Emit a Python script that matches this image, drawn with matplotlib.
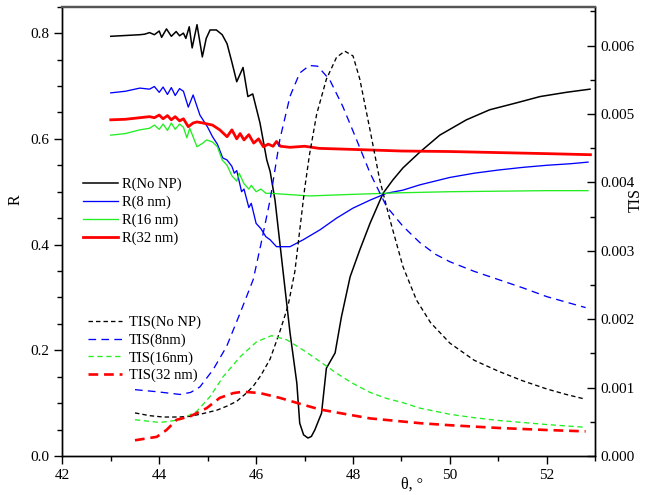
import matplotlib
matplotlib.use("Agg")
import matplotlib.pyplot as plt
from matplotlib.ticker import MultipleLocator, FormatStrFormatter

plt.rcParams['font.family'] = ['Liberation Serif', 'DejaVu Serif']
plt.rcParams['lines.scale_dashes'] = False

# ---------------- data ----------------
theta_r0 = [43.0, 43.2, 43.4, 43.6, 43.7, 43.8, 43.9, 44.0, 44.05, 44.15, 44.25, 44.35, 44.42,
            44.5, 44.55, 44.62, 44.68, 44.78, 44.89, 44.97, 45.05, 45.18, 45.3, 45.4, 45.5,
            45.6, 45.73, 45.83, 45.93, 46.08, 46.22, 46.29, 46.39, 46.56, 46.70, 46.84, 46.90,
            46.98, 47.07, 47.14, 47.21, 47.35, 47.45, 47.63, 47.76, 47.94, 48.14, 48.35, 48.62,
            48.82, 49.03, 49.38, 49.79, 50.34, 50.82, 51.37, 51.86, 52.4, 52.89]
r_nonp = [0.794, 0.795, 0.796, 0.797, 0.798, 0.801, 0.797, 0.804, 0.792, 0.808, 0.794, 0.803, 0.795,
          0.800, 0.790, 0.812, 0.772, 0.816, 0.755, 0.790, 0.806, 0.806, 0.797, 0.780, 0.745,
          0.708, 0.735, 0.680, 0.685, 0.630, 0.560, 0.538, 0.484, 0.346, 0.233, 0.138, 0.062,
          0.040, 0.034, 0.037, 0.049, 0.081, 0.166, 0.195, 0.263, 0.339, 0.390, 0.440, 0.497,
          0.522, 0.545, 0.575, 0.607, 0.636, 0.655, 0.668, 0.680, 0.688, 0.694]

theta_r8 = [43.0, 43.3, 43.6, 43.8, 43.9, 44.0, 44.08, 44.17, 44.25, 44.33, 44.42, 44.5, 44.6,
            44.7, 44.84, 45.0, 45.1, 45.2, 45.31, 45.4, 45.5, 45.55, 45.6, 45.7, 45.75, 45.85,
            45.9, 46.0, 46.1, 46.2, 46.29, 46.42, 46.70, 46.97, 47.32, 47.66, 48.0, 48.35,
            48.69, 49.03, 49.38, 50.0, 50.5, 51.0, 51.5, 52.0, 52.5, 52.85]
r_8 = [0.687, 0.690, 0.696, 0.694, 0.699, 0.688, 0.698, 0.684, 0.697, 0.682, 0.695, 0.690, 0.660,
       0.683, 0.645, 0.622, 0.604, 0.590, 0.564, 0.560, 0.548, 0.535, 0.540, 0.500, 0.505, 0.470,
       0.478, 0.440, 0.430, 0.415, 0.409, 0.396, 0.396, 0.409, 0.428, 0.450, 0.469, 0.484,
       0.497, 0.503, 0.513, 0.527, 0.535, 0.541, 0.546, 0.550, 0.553, 0.556]

theta_r16 = [43.0, 43.3, 43.6, 43.8, 43.9, 44.0, 44.08, 44.17, 44.25, 44.33, 44.42, 44.5, 44.57,
             44.63, 44.78, 44.9, 44.98, 45.1, 45.2, 45.3, 45.4, 45.5, 45.6, 45.65, 45.75, 45.85,
             45.9, 46.0, 46.1, 46.2, 46.29, 47.1, 48.0, 49.0, 50.0, 51.0, 52.0, 52.85]
r_16 = [0.607, 0.610, 0.617, 0.620, 0.626, 0.618, 0.628, 0.616, 0.630, 0.618, 0.628, 0.622, 0.602,
        0.620, 0.585, 0.592, 0.598, 0.594, 0.585, 0.560, 0.550, 0.530, 0.520, 0.535, 0.515, 0.505,
        0.512, 0.500, 0.505, 0.497, 0.497, 0.492, 0.495, 0.498, 0.500, 0.501, 0.502, 0.502]

theta_r32 = [43.0, 43.3, 43.6, 43.8, 43.9, 44.0, 44.08, 44.17, 44.25, 44.33, 44.42, 44.5, 44.6,
             44.7, 44.78, 44.9, 45.0, 45.1, 45.25, 45.4, 45.5, 45.6, 45.67, 45.75, 45.85, 45.95,
             46.05, 46.15, 46.25, 46.35, 46.42, 46.5, 46.7, 47.0, 47.3, 48.0, 49.0, 50.0, 51.0,
             52.0, 52.9]
r_32 = [0.636, 0.637, 0.640, 0.642, 0.640, 0.645, 0.638, 0.644, 0.636, 0.642, 0.634, 0.638, 0.623,
        0.630, 0.632, 0.630, 0.628, 0.626, 0.617, 0.604, 0.617, 0.600, 0.610, 0.598, 0.608, 0.592,
        0.600, 0.585, 0.590, 0.586, 0.595, 0.586, 0.584, 0.586, 0.582, 0.580, 0.577, 0.576, 0.574,
        0.572, 0.570]

theta_t0 = [43.5, 43.8, 44.08, 44.4, 44.64, 44.9, 45.19, 45.4, 45.6, 45.8, 45.94, 46.1, 46.29,
            46.49, 46.66, 46.8, 46.9, 47.0, 47.1, 47.25, 47.45, 47.66, 47.83, 48.0, 48.14, 48.35,
            48.55, 48.76, 49.03, 49.31, 49.6, 50.0, 50.5, 51.0, 51.5, 52.0, 52.4, 52.8]
tis_nonp = [0.00063, 0.00059, 0.00057, 0.00057, 0.00058, 0.00062, 0.00067, 0.00073, 0.00080,
            0.00092, 0.00102, 0.00118, 0.00142, 0.00182, 0.00220, 0.00270, 0.00330, 0.00390,
            0.00440, 0.00500, 0.00551, 0.00583, 0.00592, 0.00585, 0.00551, 0.00477, 0.00404,
            0.00346, 0.00277, 0.00228, 0.00195, 0.00165, 0.00140, 0.00124, 0.00110, 0.00098,
            0.00090, 0.00083]

theta_t8 = [43.5, 43.95, 44.43, 44.65, 44.84, 45.11, 45.39, 45.67, 45.94, 46.1, 46.29, 46.49,
            46.70, 46.90, 47.1, 47.27, 47.52, 47.79, 48.07, 48.35, 48.69, 49.03, 49.38, 49.7,
            50.0, 50.5, 51.0, 51.5, 52.0, 52.4, 52.8]
tis_8 = [0.00097, 0.00094, 0.00090, 0.00093, 0.00101, 0.00126, 0.00160, 0.00209, 0.00258, 0.00310,
         0.00375, 0.00463, 0.00526, 0.00560, 0.00571, 0.00570, 0.00550, 0.00511, 0.00463, 0.00414,
         0.00365, 0.00336, 0.00312, 0.00295, 0.00284, 0.00270, 0.00258, 0.00246, 0.00233, 0.00225,
         0.00217]

theta_t16 = [43.5, 44.02, 44.43, 44.77, 45.05, 45.32, 45.67, 46.01, 46.32, 46.63, 46.97, 47.32,
             47.66, 48.0, 48.35, 48.7, 49.03, 49.38, 50.0, 50.5, 51.0, 51.5, 52.0, 52.8]
tis_16 = [0.00053, 0.00049, 0.00053, 0.00065, 0.00087, 0.00116, 0.00145, 0.00167, 0.00176, 0.00170,
          0.00155, 0.00138, 0.00121, 0.00106, 0.00093, 0.00084, 0.00078, 0.00070, 0.00061, 0.00056,
          0.00052, 0.00049, 0.00046, 0.00042]

theta_t32 = [43.5, 43.95, 44.15, 44.36, 44.64, 44.98, 45.25, 45.53, 45.73, 46.08, 46.49, 46.97,
             47.32, 47.79, 48.35, 49.38, 50.0, 51.0, 52.0, 52.8]
tis_32 = [0.00023, 0.00028, 0.00038, 0.00053, 0.00058, 0.00070, 0.00085, 0.00092, 0.00094, 0.00092,
          0.00085, 0.00075, 0.00068, 0.00062, 0.00055, 0.00048, 0.00045, 0.00041, 0.00038, 0.00036]

labels_r = ['R(No NP)', 'R(8 nm)', 'R(16 nm)', 'R(32 nm)']
labels_t = ['TIS(No NP)', 'TIS(8nm)', 'TIS(16nm)', 'TIS(32 nm)']

# ---------------- figure ----------------
W, H = 650, 495
fig = plt.figure(figsize=(W / 100, H / 100), dpi=100)
ax = fig.add_axes([62.3 / W, 1 - 456 / H, (595.3 - 62.3) / W, (456 - 6.7) / H])
ax2 = ax.twinx()

green = '#22ee22'
l1, = ax.plot(theta_r0, r_nonp, color='black', lw=1.1, zorder=3)
l2, = ax.plot(theta_r8, r_8, color='#0000ff', lw=0.95, zorder=3)
l3, = ax.plot(theta_r16, r_16, color=green, lw=0.95, zorder=3)
l4, = ax.plot(theta_r32, r_32, color='#ff0000', lw=2.0, zorder=4)

t1, = ax2.plot(theta_t0, tis_nonp, color='black', lw=0.95, dashes=(3.2, 2.2))
t2, = ax2.plot(theta_t8, tis_8, color='#0000ff', lw=0.95, dashes=(5.5, 3.8))
t3, = ax2.plot(theta_t16, tis_16, color=green, lw=0.95, dashes=(3.8, 2.6))
t4, = ax2.plot(theta_t32, tis_32, color='#ff0000', lw=1.9, dashes=(7.0, 4.2))

ax.set_xlim(42, 53)
ax.set_ylim(0, 0.85)
ax2.set_ylim(0, 0.00657)

ax.xaxis.set_major_locator(MultipleLocator(2))
ax.xaxis.set_minor_locator(MultipleLocator(1))
ax.yaxis.set_major_locator(MultipleLocator(0.2))
ax.yaxis.set_minor_locator(MultipleLocator(0.05))
ax.yaxis.set_major_formatter(FormatStrFormatter('%.1f'))
ax2.yaxis.set_major_locator(MultipleLocator(0.001))
ax2.yaxis.set_minor_locator(MultipleLocator(0.0005))
ax2.yaxis.set_major_formatter(FormatStrFormatter('%.3f'))

fs = 11
ax.tick_params(axis='both', which='major', direction='out', length=6, width=1.0, labelsize=fs)
ax.tick_params(axis='both', which='minor', direction='out', length=3.5, width=1.0)
ax2.tick_params(axis='y', which='major', direction='in', length=6, width=1.0, labelsize=fs)
ax2.tick_params(axis='y', which='minor', direction='in', length=3.5, width=1.0)

for a in (ax, ax2):
    for s in ('left', 'right', 'bottom'):
        a.spines[s].set_linewidth(1.0)
        a.spines[s].set_color('black')
    a.spines['top'].set_linewidth(1.6)
    a.spines['top'].set_color('#555555')

ax.set_ylabel('R', fontsize=11.5)
ax.yaxis.set_label_coords(-0.072, 0.57)
ax2.set_ylabel('TIS', fontsize=11.5)
ax2.yaxis.set_label_coords(1.060, 0.57)
ax.set_xlabel('θ, °', fontsize=11.5)
ax.xaxis.set_label_coords(0.656, -0.047)

lfs = 10.5
leg1 = fig.legend([l1, l2, l3, l4], labels_r, loc='upper left',
                  bbox_to_anchor=(83 / W, 1 - 178 / H), frameon=False, fontsize=lfs,
                  handlelength=2.4, handletextpad=0.25, labelspacing=0.3,
                  borderpad=0, borderaxespad=0)
leg2 = fig.legend([t1, t2, t3, t4], labels_t, loc='upper left',
                  bbox_to_anchor=(88 / W, 1 - 316 / H), frameon=False, fontsize=lfs,
                  handlelength=2.3, handletextpad=0.5, labelspacing=0.28,
                  borderpad=0, borderaxespad=0)

fig.savefig('out.png', dpi=100)
